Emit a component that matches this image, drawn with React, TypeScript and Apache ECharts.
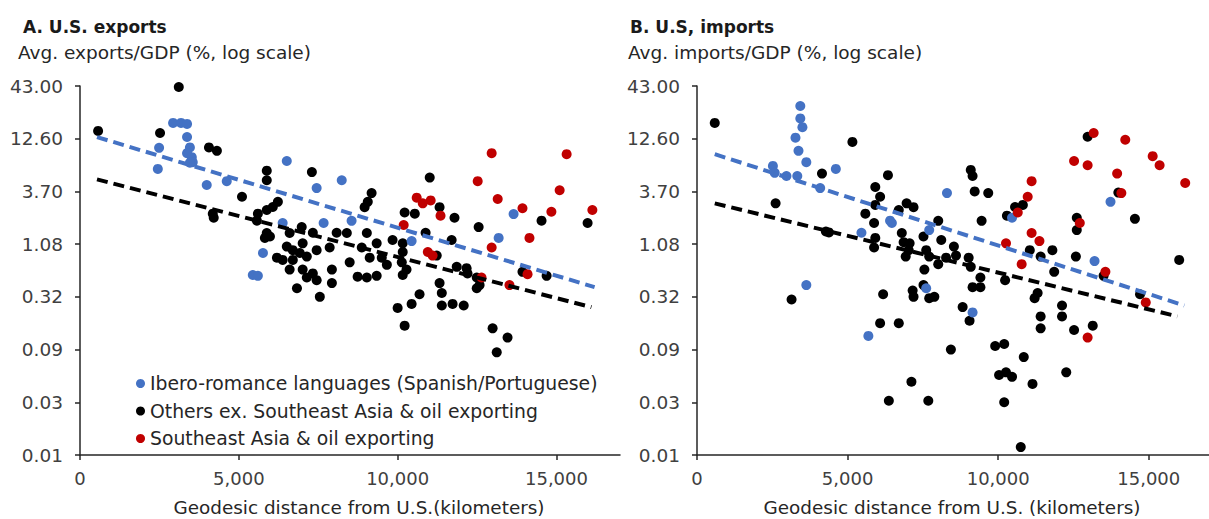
import React, { useEffect, useRef } from "react";
import * as echarts from "echarts";

// Y axis tick labels (log scale, evenly spaced on the page)
const yTickLabels = ["0.01", "0.03", "0.09", "0.32", "1.08", "3.70", "12.60", "43.00"];
const xTickStep = 5000;
const xMax = 17000;

const seriesNames = [
  "Ibero-romance languages (Spanish/Portuguese)",
  "Others ex. Southeast Asia & oil exporting",
  "Southeast Asia & oil exporting",
];

// Panel A: U.S. exports — [distance km, exports/GDP %]
const exportsIbero: [number, number][] = [
  [2930, 18.2], [3180, 18.2], [3370, 17.8], [3370, 13.1], [2490, 10.2], [2450, 6.25], [3460, 10.3],
  [3370, 9.0], [3520, 8.2], [3550, 7.3], [3460, 7.2], [6510, 7.5], [3990, 4.3], [4620, 4.7],
  [7450, 4.0], [6380, 1.77], [5760, 0.88], [5440, 0.53], [5600, 0.52], [8240, 4.8], [7670, 1.77],
  [8550, 1.86], [13650, 2.18], [13180, 1.25], [10440, 1.16],
];
const exportsOthers: [number, number][] = [
  [3110, 42], [570, 15.1], [2520, 14.4], [4060, 10.3], [4310, 9.5], [5880, 6.0], [7300, 5.8],
  [5880, 4.8], [5100, 3.27], [4180, 2.2], [4210, 2.0], [6230, 2.9], [6070, 2.57], [5880, 2.4],
  [5600, 2.2], [5570, 1.87], [5880, 1.4], [5980, 1.29], [5820, 1.25], [6980, 1.61], [7330, 1.41],
  [6600, 1.4], [6510, 1.02], [6700, 0.94], [7010, 1.1], [6920, 0.88], [7140, 0.81], [7450, 0.94],
  [6200, 0.79], [6380, 0.75], [6700, 0.75], [6600, 0.6], [7010, 0.6], [7330, 0.55], [7450, 0.47],
  [7140, 0.5], [6830, 0.39], [7550, 0.32], [11010, 5.1], [9180, 3.56], [9060, 2.9], [8960, 2.56],
  [11320, 2.56], [10220, 2.26], [10540, 2.2], [11790, 2.0], [14530, 1.87], [15980, 1.77],
  [8080, 1.41], [8400, 1.4], [10880, 1.41], [12550, 1.61], [9030, 1.4], [11700, 1.19], [7860, 1.0],
  [9340, 1.1], [9840, 1.19], [10160, 1.1], [10160, 0.9], [8870, 1.0], [9120, 0.79], [9500, 0.79],
  [9660, 0.67], [11230, 0.83], [8490, 0.71], [10130, 0.71], [11860, 0.64], [12170, 0.62],
  [12200, 0.55], [12490, 0.5], [12580, 0.42], [12490, 0.39], [10280, 0.6], [10160, 0.53],
  [13930, 0.57], [14690, 0.52], [7930, 0.6], [7930, 0.44], [8740, 0.51], [9030, 0.5], [9340, 0.52],
  [11320, 0.44], [11390, 0.35], [10690, 0.34], [10440, 0.27], [10000, 0.245], [11390, 0.26],
  [11730, 0.27], [12080, 0.26], [10220, 0.16], [12990, 0.15], [13460, 0.12], [13120, 0.085],
];
const exportsSEAsia: [number, number][] = [
  [12960, 9.0], [15320, 8.8], [12520, 4.7], [15100, 3.8], [10600, 3.2], [10790, 2.8], [11040, 3.0],
  [13150, 3.1], [11350, 2.1], [13930, 2.5], [14840, 2.3], [16130, 2.4], [10190, 1.69], [14150, 1.25],
  [12960, 1.0], [10950, 0.9], [11100, 0.83], [14090, 0.54], [12640, 0.5], [13520, 0.42],
];
const exportsTrendIbero: [number, number][] = [[535, 13.1], [16200, 0.4]];
const exportsTrendOthers: [number, number][] = [[535, 4.9], [16100, 0.25]];

// Panel B: U.S. imports — [distance km, imports/GDP %]
const importsIbero: [number, number][] = [
  [3430, 27], [3430, 20.2], [3500, 16.5], [3270, 12.9], [3370, 9.5], [3630, 7.3], [2520, 6.7],
  [2580, 5.7], [2970, 5.3], [3330, 5.3], [4610, 6.25], [4090, 4.0], [6410, 1.87], [6470, 1.77],
  [5460, 1.41], [3630, 0.42], [5690, 0.125], [8300, 3.56], [13730, 2.9], [10460, 2.0], [7710, 1.5],
  [13200, 0.73], [7610, 0.39], [9150, 0.22],
];
const importsOthers: [number, number][] = [
  [590, 18.2], [5160, 11.7], [4150, 5.6], [6340, 5.4], [12970, 13.2], [9090, 6.1], [9150, 5.3],
  [2610, 2.8], [5920, 4.1], [6080, 3.27], [5920, 2.7], [5590, 2.2], [5880, 1.77], [6960, 2.8],
  [6700, 2.4], [7190, 2.56], [4280, 1.45], [4380, 1.42], [6800, 1.4], [6860, 1.13], [7060, 1.1],
  [7030, 0.94], [6930, 0.81], [5920, 1.25], [5880, 1.0], [7160, 0.37], [7190, 0.32], [6180, 0.34],
  [3140, 0.3], [6080, 0.17], [6700, 0.17], [9220, 3.7], [9670, 3.56], [13990, 3.6], [10820, 2.7],
  [10560, 2.57], [10290, 2.1], [9450, 1.86], [8010, 1.86], [12610, 2.0], [12610, 1.5], [14540, 1.95],
  [7520, 1.29], [8110, 1.19], [8530, 1.02], [8600, 0.83], [11050, 0.94], [11800, 0.94], [7610, 0.94],
  [7710, 0.81], [8270, 0.79], [9020, 0.79], [12580, 0.81], [11410, 0.81], [16010, 0.75], [8010, 0.68],
  [9090, 0.64], [7550, 0.6], [11860, 0.57], [13500, 0.52], [9410, 0.5], [10230, 0.47], [9150, 0.4],
  [9410, 0.4], [7520, 0.42], [7710, 0.31], [7880, 0.32], [11310, 0.35], [11210, 0.31], [14710, 0.34],
  [12120, 0.26], [12120, 0.2], [8820, 0.25], [9050, 0.18], [11410, 0.2], [11410, 0.15], [13140, 0.16],
  [12520, 0.144], [8430, 0.09], [9900, 0.098], [10200, 0.103], [10850, 0.077], [10030, 0.053],
  [10260, 0.056], [10460, 0.051], [12260, 0.056], [11140, 0.044], [7120, 0.046], [6370, 0.031],
  [7680, 0.031], [10200, 0.03], [10750, 0.0118],
];
const importsSEAsia: [number, number][] = [
  [13170, 14.4], [14220, 12.3], [12520, 7.5], [12970, 6.8], [15130, 8.4], [15360, 6.8], [13950, 5.6],
  [11110, 4.7], [16210, 4.5], [14090, 3.56], [10980, 3.27], [10650, 2.26], [12710, 1.77], [11110, 1.4],
  [11370, 1.16], [10260, 1.1], [10780, 0.68], [13560, 0.57], [14900, 0.28], [12970, 0.12],
];
const importsTrendIbero: [number, number][] = [[590, 8.8], [16180, 0.26]];
const importsTrendOthers: [number, number][] = [[590, 2.8], [15950, 0.2]];

const BLUE = "#4472C4";
const BLACK = "#000000";
const RED = "#C00000";
const FONT = '"DejaVu Sans"';

const yTickValues = yTickLabels.map(Number);
// piecewise log position between the labelled ticks
function toPos(v: number): number {
  const t = yTickValues;
  let i = 0;
  while (i < t.length - 2 && v >= t[i + 1]) i++;
  return i + Math.log(v / t[i]) / Math.log(t[i + 1] / t[i]);
}
const mapPts = (pts: [number, number][]) => pts.map(([x, y]) => [x, toPos(y)]);

export default function App() {
  const ref = useRef<HTMLDivElement>(null);
  useEffect(() => {
    if (!ref.current) return;
    const chart = echarts.init(ref.current, null, { renderer: "svg" });

    const xAxisBase = (gridIndex: number) => ({
      type: "value",
      gridIndex,
      min: 0,
      max: xMax,
      interval: xTickStep,
      axisLine: { show: true, lineStyle: { color: "#262626", width: 1.5 } },
      axisTick: { show: true, length: 5, lineStyle: { color: "#262626", width: 1.5 } },
      axisLabel: {
        showMaxLabel: false,
        margin: 14,
        fontSize: 18,
        fontFamily: FONT,
        color: "#404040",
        formatter: (v: number) => v.toLocaleString("en-US"),
      },
      splitLine: { show: false },
    });
    const yAxisBase = (gridIndex: number) => ({
      type: "value",
      gridIndex,
      min: 0,
      max: yTickLabels.length - 1,
      interval: 1,
      axisLine: { show: true, lineStyle: { color: "#262626", width: 1.5 } },
      axisTick: { show: true, length: 5, lineStyle: { color: "#262626", width: 1.5 } },
      axisLabel: {
        margin: 17,
        fontSize: 18.5,
        fontFamily: FONT,
        color: "#404040",
        formatter: (v: number) => yTickLabels[Math.round(v)] ?? "",
      },
      splitLine: { show: false },
    });

    const scatter = (name: string, data: [number, number][], color: string, idx: number, z: number) => ({
      name,
      type: "scatter",
      xAxisIndex: idx,
      yAxisIndex: idx,
      data: mapPts(data),
      symbol: "circle",
      symbolSize: 10,
      itemStyle: { color, opacity: 1 },
      z,
    });
    const trend = (data: [number, number][], color: string, idx: number) => ({
      type: "line",
      xAxisIndex: idx,
      yAxisIndex: idx,
      data: mapPts(data),
      symbol: "none",
      silent: true,
      lineStyle: { color, width: 4, type: [11, 6] },
      z: 5,
    });

    const textEl = (text: string, x: number, y: number, font: string, fill: string, align = "left") => ({
      type: "text",
      x,
      y,
      silent: true,
      style: { text, font, fill, align, verticalAlign: "middle" },
    });

    chart.setOption({
      animation: false,
      backgroundColor: "#ffffff",
      grid: [
        { left: 80, top: 86, width: 540, height: 369, containLabel: false },
        { left: 697, top: 86, width: 520, height: 369, containLabel: false },
      ],
      xAxis: [xAxisBase(0), xAxisBase(1)],
      yAxis: [yAxisBase(0), yAxisBase(1)],
      legend: {
        orient: "vertical",
        left: 131,
        top: 369,
        itemWidth: 9,
        itemHeight: 9,
        itemGap: 8.5,
        icon: "circle",
        data: seriesNames,
        selectedMode: false,
        textStyle: { fontSize: 18.8, fontFamily: FONT, color: "#262626" },
      },
      graphic: [
        textEl("A. U.S. exports", 23, 27, `bold 17px ${FONT}`, "#1a1a1a"),
        textEl("Avg. exports/GDP (%, log scale)", 18, 52, `18.5px ${FONT}`, "#262626"),
        textEl("B. U.S, imports", 630, 27, `bold 17px ${FONT}`, "#1a1a1a"),
        textEl("Avg. imports/GDP (%, log scale)", 628, 52, `18.5px ${FONT}`, "#262626"),
        textEl("Geodesic distance from U.S.(kilometers)", 359, 507, `18.4px ${FONT}`, "#262626", "center"),
        textEl("Geodesic distance from U.S. (kilometers)", 952, 507, `18.4px ${FONT}`, "#262626", "center"),
      ],
      series: [
        scatter(seriesNames[1], exportsOthers, BLACK, 0, 2),
        scatter(seriesNames[0], exportsIbero, BLUE, 0, 3),
        scatter(seriesNames[2], exportsSEAsia, RED, 0, 4),
        trend(exportsTrendIbero, BLUE, 0),
        trend(exportsTrendOthers, BLACK, 0),
        scatter(seriesNames[1], importsOthers, BLACK, 1, 2),
        scatter(seriesNames[0], importsIbero, BLUE, 1, 3),
        scatter(seriesNames[2], importsSEAsia, RED, 1, 4),
        trend(importsTrendIbero, BLUE, 1),
        trend(importsTrendOthers, BLACK, 1),
      ],
    });
    return () => chart.dispose();
  }, []);

  return (
    <div
      ref={ref}
      style={{ position: "fixed", left: 0, top: 0, width: 1209, height: 519, background: "#fff" }}
    />
  );
}
